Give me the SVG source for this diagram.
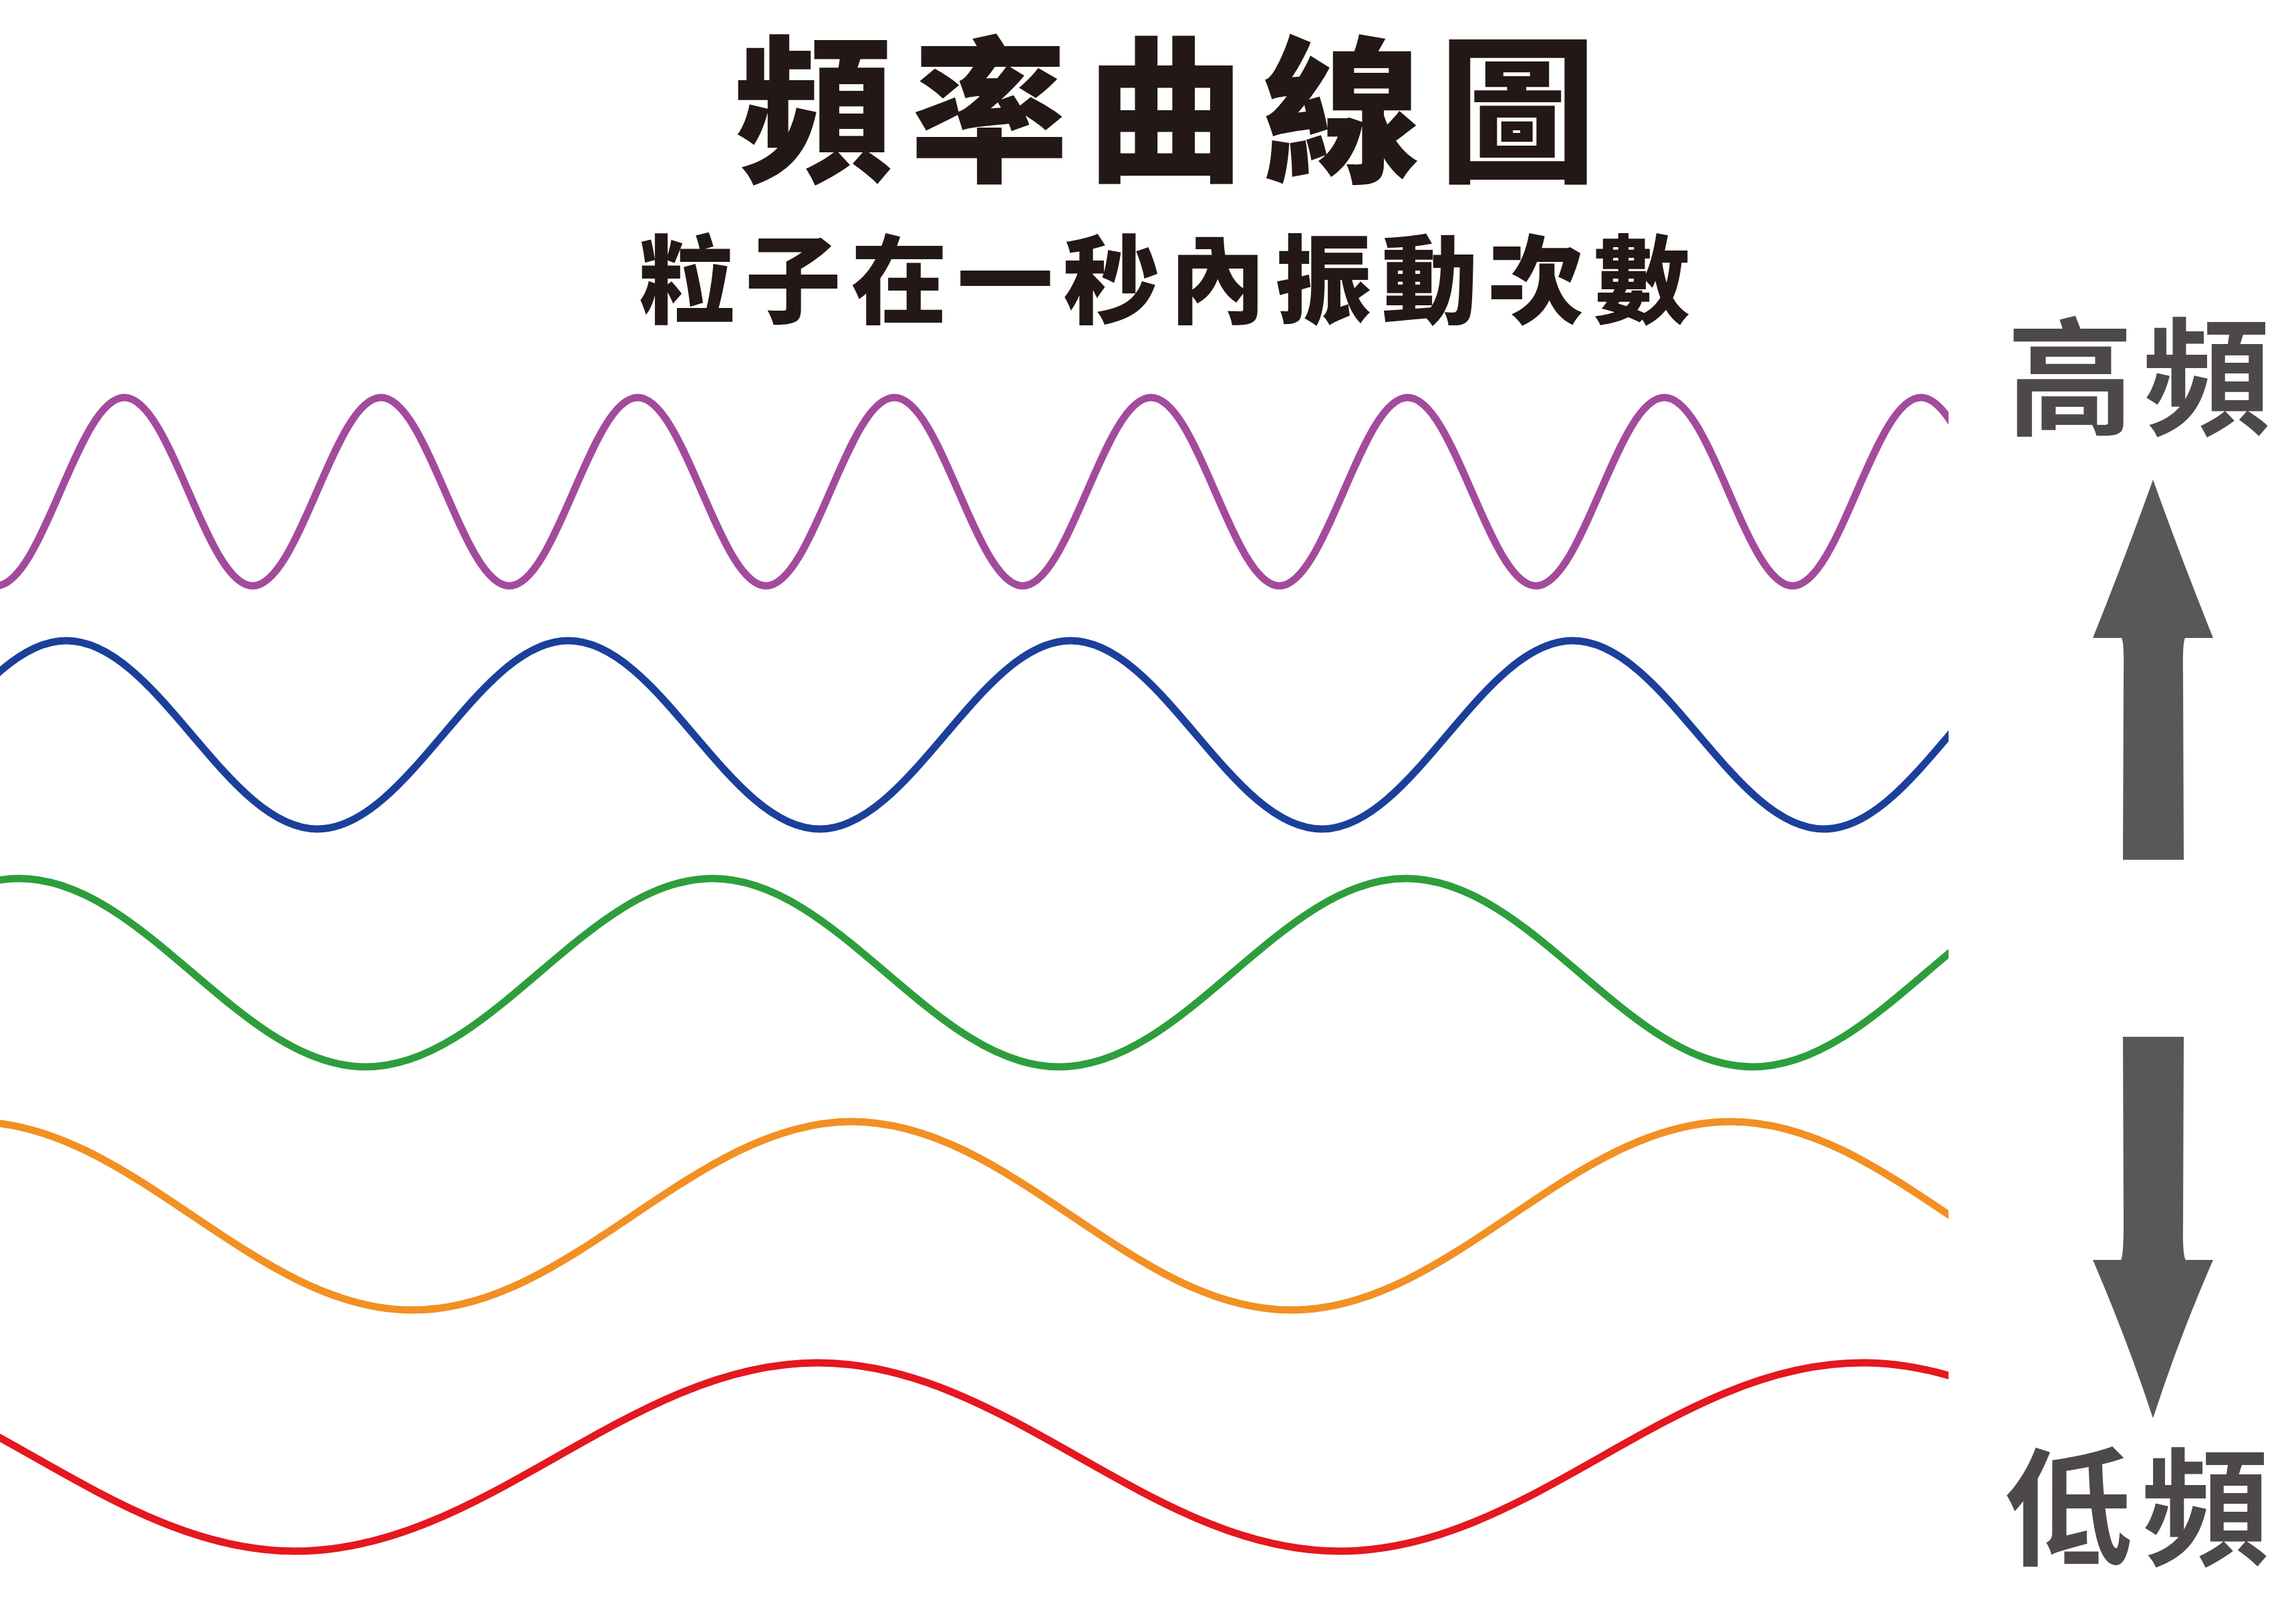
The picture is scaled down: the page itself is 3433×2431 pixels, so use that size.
<svg xmlns="http://www.w3.org/2000/svg" width="3433" height="2431" viewBox="0 0 3433 2431">
  <style>
    .wave { fill: none; stroke-width: 11; stroke-linecap: butt; stroke-linejoin: round; }
    .cjk { font-family: "Noto Sans CJK TC", "Noto Sans CJK SC", sans-serif; }
    .head { fill: #231815; font-weight: 900; }
    .side { fill: #4c4948; font-weight: 700; font-size: 190px; }
    .arrow { fill: #595757; }
  </style>
  <defs>
    <clipPath id="waveClip">
      <rect x="0" y="0" width="2916" height="2431"/>
    </clipPath>
  </defs>
  <rect width="3433" height="2431" fill="#ffffff"/>

  <g id="title">
    <text class="cjk head" x="1099" y="254" font-size="236" textLength="1290" lengthAdjust="spacing">頻率曲線圖</text>
  </g>
  <g id="subtitle">
    <text class="cjk head" x="956" y="473" font-size="144" textLength="1573" lengthAdjust="spacing">粒子在一秒內振動次數</text>
  </g>

  <g id="waves" clip-path="url(#waveClip)">
    <g id="wave-purple">
      <path class="wave" stroke="#A34A9D" d="M-5.95,877 C63.84,877 116.31,595 186.1,595 S308.36,877 378.15,877 S500.41,595 570.2,595 S692.46,877 762.25,877 S884.51,595 954.3,595 S1076.56,877 1146.35,877 S1268.61,595 1338.4,595 S1460.66,877 1530.45,877 S1652.71,595 1722.5,595 S1844.76,877 1914.55,877 S2036.81,595 2106.6,595 S2228.86,877 2298.65,877 S2420.91,595 2490.7,595 S2612.96,877 2682.75,877 S2805.01,595 2874.8,595 S2997.06,877 3066.85,877"/>
    </g>
    <g id="wave-blue">
      <path class="wave" stroke="#1B409A" d="M-276.75,1241 C-140.2,1241 -37.3,959 99.25,959 S338.45,1241 475,1241 S714.2,959 850.75,959 S1089.95,1241 1226.5,1241 S1465.7,959 1602.25,959 S1841.45,1241 1978,1241 S2217.2,959 2353.75,959 S2592.95,1241 2729.5,1241 S2968.7,959 3105.25,959"/>
    </g>
    <g id="wave-green">
      <path class="wave" stroke="#2E9E3C" d="M-490.4,1597 C-301.83,1597 -160.07,1315 28.5,1315 S358.83,1597 547.4,1597 S877.73,1315 1066.3,1315 S1396.63,1597 1585.2,1597 S1915.53,1315 2104.1,1315 S2434.43,1597 2623,1597 S2953.33,1315 3141.9,1315"/>
    </g>
    <g id="wave-orange">
      <path class="wave" stroke="#F29024" d="M-40.1,1679 C198.83,1679 378.47,1961 617.4,1961 S1035.97,1679 1274.9,1679 S1693.47,1961 1932.4,1961 S2350.97,1679 2589.9,1679 S3008.47,1961 3247.4,1961"/>
    </g>
    <g id="wave-red">
      <path class="wave" stroke="#E5171F" d="M-339.5,2040 C-55.5,2040 158,2322 442,2322 S939.5,2040 1223.5,2040 S1721,2322 2005,2322 S2502.5,2040 2786.5,2040 S3284,2322 3568,2322"/>
    </g>
  </g>

  <g id="label-high">
    <text class="cjk side" x="3207" y="636" text-anchor="middle" letter-spacing="14">高頻</text>
  </g>
  <g id="label-low">
    <text class="cjk side" x="3205" y="2328" text-anchor="middle" letter-spacing="14">低頻</text>
  </g>

  <g id="arrows">
    <g id="arrow-up">
      <path class="arrow" d="M3222,718 Q3262,830 3312,955 L3270,955 Q3266,962 3267,1010 L3268,1287 L3177,1287 L3178,1010 Q3179,962 3175,955 L3132,955 Q3182,830 3222,718 Z"/>
    </g>
    <g id="arrow-down">
      <path class="arrow" d="M3177,1552 L3268,1552 L3267,1830 Q3266,1880 3271,1886 L3312,1886 Q3262,2000 3222,2123 Q3185,2010 3132,1886 L3174,1886 Q3178,1880 3178,1830 Z"/>
    </g>
  </g>
</svg>
